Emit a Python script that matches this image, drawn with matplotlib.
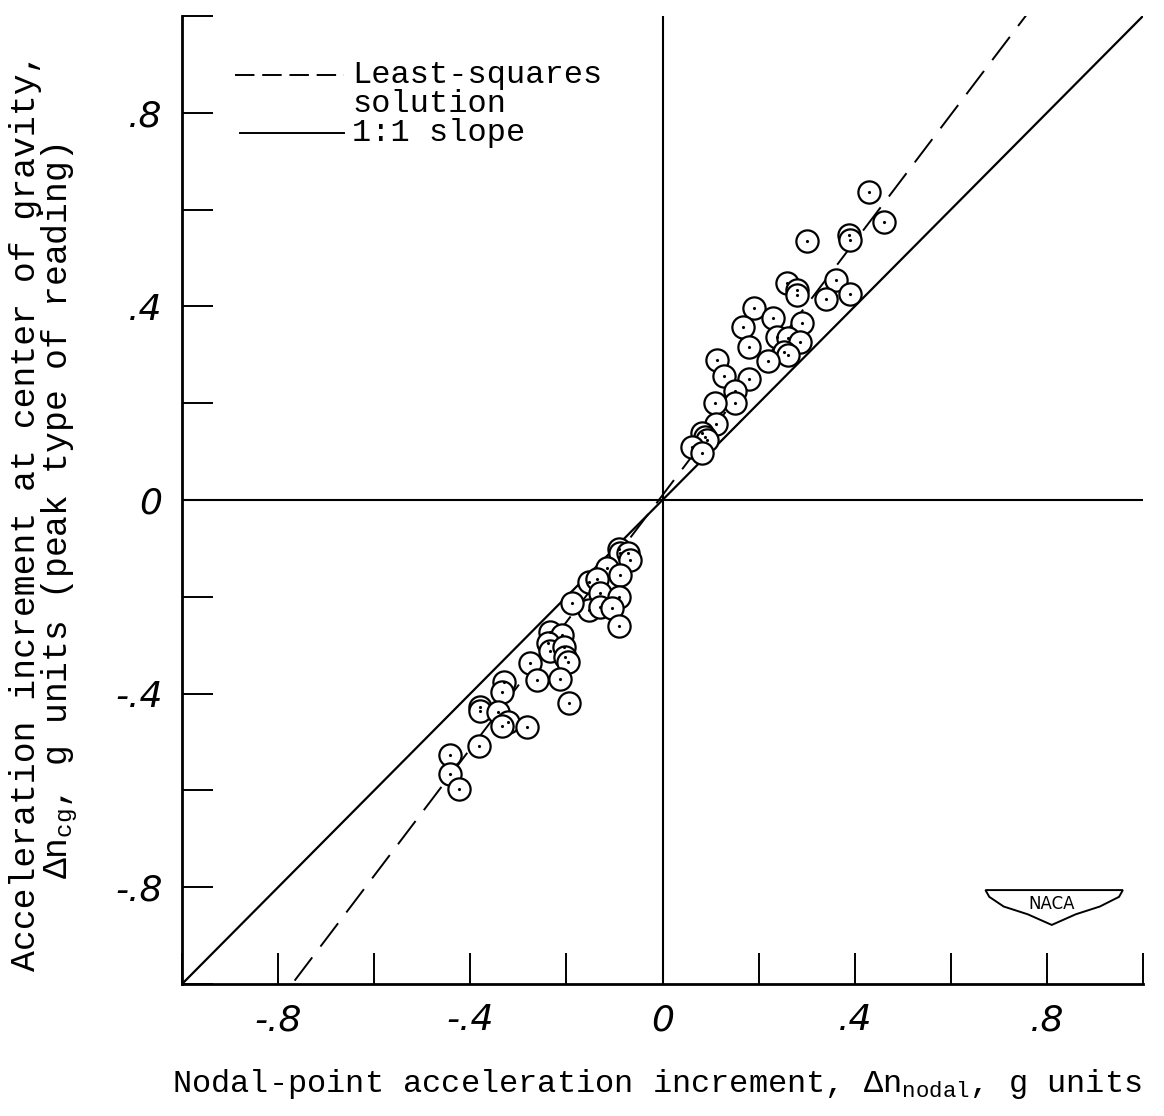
import numpy as np
import matplotlib.pyplot as plt
from matplotlib.ticker import FixedLocator

plt.rcParams['font.family'] = ['Liberation Mono', 'DejaVu Sans Mono']
plt.rcParams['mathtext.fontset'] = 'custom'
plt.rcParams['mathtext.rm'] = 'Liberation Mono'
plt.rcParams['mathtext.it'] = 'Liberation Mono'

# Dati (positivi)
x_pos = [0.430, 0.461, 0.388, 0.390, 0.301, 0.361, 0.340, 0.390, 0.259, 0.280,
         0.280, 0.190, 0.230, 0.290, 0.168, 0.238, 0.261, 0.286, 0.180, 0.253,
         0.261, 0.219, 0.113, 0.128, 0.180, 0.151, 0.151, 0.109, 0.111, 0.082,
         0.088, 0.092, 0.061, 0.082]
y_pos = [0.636, 0.574, 0.548, 0.537, 0.535, 0.455, 0.415, 0.426, 0.448, 0.434,
         0.424, 0.397, 0.376, 0.366, 0.357, 0.337, 0.335, 0.327, 0.316, 0.306,
         0.300, 0.287, 0.289, 0.256, 0.250, 0.225, 0.200, 0.200, 0.157, 0.138,
         0.130, 0.124, 0.110, 0.097]

# Dati negativi
x_neg = [-0.090, -0.088, -0.071, -0.068, -0.116, -0.088, -0.154, -0.137, -0.130,
         -0.090, -0.154, -0.130, -0.106, -0.091, -0.189, -0.234, -0.210, -0.238,
         -0.234, -0.206, -0.203, -0.196, -0.276, -0.262, -0.213, -0.194, -0.331,
         -0.335, -0.380, -0.380, -0.342, -0.321, -0.335, -0.283, -0.381, -0.442,
         -0.442, -0.423]
y_neg = [-0.102, -0.110, -0.110, -0.124, -0.141, -0.155, -0.169, -0.164, -0.192,
         -0.200, -0.227, -0.222, -0.224, -0.260, -0.212, -0.272, -0.279, -0.296,
         -0.313, -0.303, -0.324, -0.334, -0.337, -0.372, -0.370, -0.419, -0.377,
         -0.396, -0.427, -0.437, -0.439, -0.458, -0.468, -0.470, -0.508, -0.527,
         -0.566, -0.598]

ls_slope = 1.31
ls_intercept = 0.01

tick_pos = [-1.0, -0.8, -0.6, -0.4, -0.2, 0.0, 0.2, 0.4, 0.6, 0.8, 1.0]
label_pos = [-0.8, -0.4, 0.0, 0.4, 0.8]
label_txt = ["-.8", "-.4", "0", ".4", ".8"]

fig = plt.figure(figsize=(11.64, 11.16), dpi=100)
ax = fig.add_axes([0.1564, 0.1183, 0.8256, 0.8674])
ax.set_xlim(-1, 1)
ax.set_ylim(-1, 1)

for s in ["top", "right"]:
    ax.spines[s].set_visible(False)
for s in ["left", "bottom"]:
    ax.spines[s].set_linewidth(2)

# Linee dello zero
ax.axhline(0, color="black", lw=1.5)
ax.axvline(0, color="black", lw=1.5)

# Linee 1:1 e minimi quadrati
xx = np.array([-1.0, 1.0])
ax.plot(xx, xx, color="black", lw=1.6)
ax.plot(xx, ls_slope * xx + ls_intercept, color="black", lw=1.4,
        dashes=(15, 7))

# Punti
for xs, ys in [(x_pos, y_pos), (x_neg, y_neg)]:
    ax.plot(xs, ys, "o", ms=16, mfc="white", mec="black", mew=1.6, zorder=3)
    ax.plot(xs, ys, ".", ms=2.5, color="black", zorder=4)

# Tacche
ax.xaxis.set_major_locator(FixedLocator(tick_pos))
ax.yaxis.set_major_locator(FixedLocator(tick_pos))
ax.set_xticklabels(["" if t not in label_pos else label_txt[label_pos.index(t)]
                    for t in tick_pos])
ax.set_yticklabels(["" if t not in label_pos else label_txt[label_pos.index(t)]
                    for t in tick_pos])
ax.tick_params(direction="in", length=22, width=1.4, pad=14)
for lab in ax.get_xticklabels() + ax.get_yticklabels():
    lab.set_fontfamily("DejaVu Sans")
    lab.set_fontstyle("oblique")
    lab.set_fontsize(26)
    lab.set_fontweight("light")

ax.set_xlabel(r"Nodal-point acceleration increment, $\Delta n_{nodal}$, g units",
              fontsize=23)
ax.xaxis.set_label_coords(0.494, -0.086)
ax.set_ylabel("Acceleration increment at center of gravity,\n"
              r"$\Delta n_{cg}$, g units (peak type of reading)",
              fontsize=25, linespacing=0.9)
ax.yaxis.set_label_coords(-0.106, 0.488)

# Legenda (disegnata a mano)
ax.plot([0.055, 0.169], [0.939, 0.939], color="black", lw=1.4, dashes=(10, 4),
        transform=ax.transAxes)
ax.plot([0.060, 0.169], [0.879, 0.879], color="black", lw=1.4,
        transform=ax.transAxes)
ax.text(0.177, 0.939, "Least-squares", transform=ax.transAxes, fontsize=23,
        va="center", ha="left")
ax.text(0.177, 0.909, "solution", transform=ax.transAxes, fontsize=23,
        va="center", ha="left")
ax.text(0.177, 0.879, "1:1 slope", transform=ax.transAxes, fontsize=23,
        va="center", ha="left")

# Logo NACA
wing_x = [0.836, 0.979, 0.975, 0.955, 0.93, 0.905, 0.88, 0.855, 0.84]
wing_y = [0.097, 0.097, 0.090, 0.080, 0.072, 0.061, 0.072, 0.080, 0.090]
ax.fill(wing_x, wing_y, facecolor="white", edgecolor="black", lw=1.4,
        transform=ax.transAxes)
ax.text(0.905, 0.083, "NACA", transform=ax.transAxes, ha="center", va="center",
        fontsize=12, family="DejaVu Sans")

plt.savefig("out.png", dpi=100)
